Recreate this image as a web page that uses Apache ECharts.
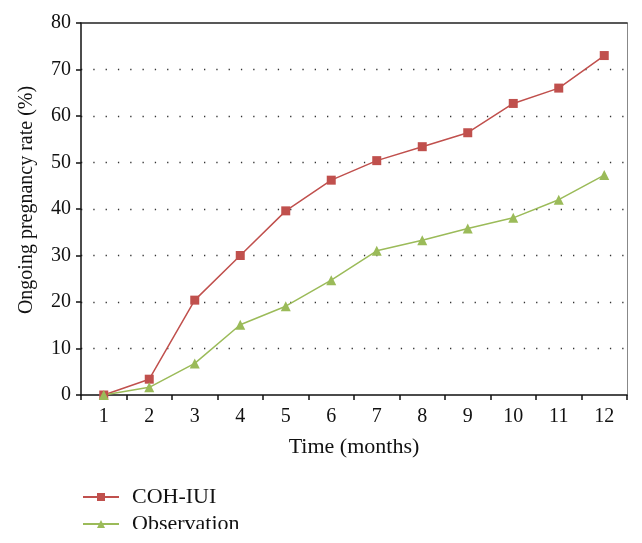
<!DOCTYPE html>
<html><head><meta charset="utf-8">
<script src="https://cdn.jsdelivr.net/npm/echarts@6/dist/echarts.min.js"></script>
<style>html,body{margin:0;padding:0;background:#fff}#c{width:642px;height:543px}</style>
</head><body><div id="c"></div>
<script>
const months = ['1','2','3','4','5','6','7','8','9','10','11','12'];
const cohIui = [0, 3.4, 20.4, 30.0, 39.6, 46.2, 50.4, 53.4, 56.4, 62.7, 66.0, 73.0];
const observation = [0, 1.65, 6.8, 15.1, 19.1, 24.7, 31.0, 33.3, 35.8, 38.1, 42.0, 47.3];
const yTicks = [0, 10, 20, 30, 40, 50, 60, 70, 80];

const FONT = 'Liberation Serif';
const legendBase = {
  orient: 'horizontal', left: 82, padding: 0, itemWidth: 36, itemHeight: 10,
  textStyle: {fontFamily: FONT, fontSize: 22, color: '#111', padding: [0, 0, 0, 8]}
};
const chart = echarts.init(document.getElementById('c'), null, {renderer: 'canvas'});
chart.setOption({
  animation: false,
  textStyle: {fontFamily: FONT, color: '#111'},
  grid: {left: 81, top: 23, right: 15, bottom: 148, containLabel: false},
  legend: [
    Object.assign({}, legendBase, {top: 486, data: ['COH-IUI']}),
    Object.assign({}, legendBase, {top: 513, data: ['Observation']})
  ],
  graphic: [{
    type: 'rect', left: 0, top: 529, z: 100,
    shape: {width: 642, height: 14}, style: {fill: '#fff'}
  }],
  xAxis: [{
    type: 'category', data: months, boundaryGap: true,
    name: 'Time (months)', nameLocation: 'middle', nameGap: 41,
    nameTextStyle: {fontFamily: FONT, fontSize: 22, color: '#111'},
    axisLine: {onZero: false, lineStyle: {color: '#111', width: 1.5}},
    axisTick: {show: true, alignWithLabel: false, length: 5, lineStyle: {color: '#111', width: 1.5}},
    axisLabel: {fontFamily: FONT, fontSize: 20, color: '#111', margin: 12},
    splitLine: {show: false}
  }, {
    type: 'category', data: months, position: 'top',
    axisLine: {show: true, onZero: false, lineStyle: {color: '#222', width: 1.5}},
    axisTick: {show: false}, axisLabel: {show: false}, splitLine: {show: false}
  }],
  yAxis: [{
    type: 'value', min: 0, max: 80, interval: 10,
    name: 'Ongoing pregnancy rate (%)', nameLocation: 'middle', nameGap: 44,
    nameTextStyle: {fontFamily: FONT, fontSize: 20, color: '#111', padding: [0, 0, 0, 18]},
    axisLine: {show: true, onZero: false, lineStyle: {color: '#111', width: 1.5}},
    axisTick: {show: true, length: 5, lineStyle: {color: '#111', width: 1.5}},
    axisLabel: {fontFamily: FONT, fontSize: 20, color: '#111', margin: 10,
      formatter: v => yTicks.includes(v) ? String(v) : ''},
    splitLine: {show: true, showMinLine: false, showMaxLine: false,
      lineStyle: {color: '#333', width: 1.3, type: [1.3, 11]}}
  }, {
    type: 'value', min: 0, max: 80, interval: 10, position: 'right',
    axisLine: {show: true, onZero: false, lineStyle: {color: '#888', width: 1}},
    axisTick: {show: false}, axisLabel: {show: false}, splitLine: {show: false}
  }],
  series: [{
    name: 'COH-IUI', type: 'line', data: cohIui, xAxisIndex: 0, yAxisIndex: 0,
    symbol: 'rect', symbolSize: 9,
    lineStyle: {color: '#c0504d', width: 1.5},
    itemStyle: {color: '#c0504d'}
  }, {
    name: 'Observation', type: 'line', data: observation, xAxisIndex: 0, yAxisIndex: 0,
    symbol: 'triangle', symbolSize: 10,
    lineStyle: {color: '#9bbb59', width: 1.5},
    itemStyle: {color: '#9bbb59'}
  }]
});
</script></body></html>
